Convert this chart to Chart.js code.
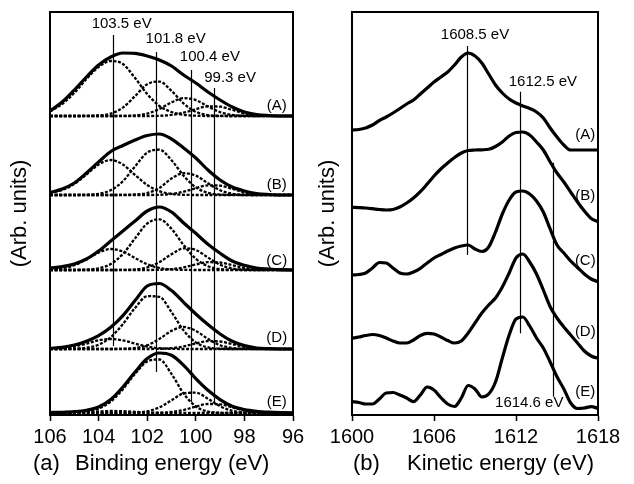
<!DOCTYPE html>
<html>
<head>
<meta charset="utf-8">
<script src="https://cdn.jsdelivr.net/npm/chart.js@4.4.1/dist/chart.umd.min.js"></script>
<style>
  html, body { margin: 0; padding: 0; background: #fff; }
  #wrap { position: relative; width: 634px; height: 484px; }
  canvas { position: absolute; top: 0; }
  #left { left: 0; }
  #right { left: 317px; }
</style>
</head>
<body>
<div id="wrap">
  <canvas id="left" width="317" height="484"></canvas>
  <canvas id="right" width="317" height="484"></canvas>
</div>
<script>
// ---- panel (a): XPS, binding energy grid (eV) ----
const bindingEnergy = [106, 105.5, 105, 104.5, 104, 103.5, 103, 102.5, 102, 101.5, 101, 100.5, 100, 99.5, 99, 98.5, 98, 97.5, 97, 96.5, 96];
// vertical offset of each spectrum (A..E)
const xpsOffsets = [299, 220, 145, 66, 2];

const xpsA_env = [5, 14, 26, 39, 51, 59, 63, 62.7, 60, 56, 50, 41, 33, 24, 16, 9, 4, 1.5, 0.5, 0, 0];
const xpsA_c1 = [4.5, 12, 23, 37, 49, 55, 52, 38, 22, 10, 4, 1.2, 0.3, 0, 0, 0, 0, 0, 0, 0, 0];
const xpsA_c2 = [0, 0, 0, 0.1, 0.5, 2.4, 8.4, 19.9, 31.8, 34.4, 25.2, 12.5, 4.2, 0.9, 0.1, 0, 0, 0, 0, 0, 0];
const xpsA_c3 = [0, 0, 0, 0, 0, 0, 0.1, 0.6, 2.4, 7.0, 13.6, 17.9, 15.9, 9.6, 3.9, 1.1, 0.2, 0, 0, 0, 0];
const xpsA_c4 = [0, 0, 0, 0, 0, 0, 0, 0, 0, 0.2, 1.1, 3.3, 6.8, 9.7, 9.3, 6.1, 2.7, 0.8, 0.2, 0, 0];

const xpsB_env = [2.5, 6, 12, 22, 33, 43.5, 49.5, 55, 59.5, 61, 56, 47, 37, 25, 15, 8, 4, 1.5, 0.5, 0, 0];
const xpsB_c1 = [2, 5, 11, 20.5, 30.5, 35, 30.5, 20, 10, 3.8, 1.1, 0.2, 0, 0, 0, 0, 0, 0, 0, 0, 0];
const xpsB_c2 = [0, 0, 0, 0.2, 1.2, 4.8, 13.8, 28.6, 42.4, 45.3, 34.8, 19.2, 7.6, 2.2, 0.4, 0.1, 0, 0, 0, 0, 0];
const xpsB_c3 = [0, 0, 0, 0, 0, 0, 0.1, 0.5, 2.0, 7.0, 16.6, 21.8, 19.4, 11.7, 4.8, 1.3, 0.2, 0, 0, 0, 0];
const xpsB_c4 = [0, 0, 0, 0, 0, 0, 0, 0, 0, 0.2, 1.1, 3.3, 6.8, 9.7, 9.3, 6.1, 2.7, 0.8, 0.2, 0, 0];

const xpsC_env = [2, 3.3, 6, 11, 19, 29, 39, 49, 59, 63, 58, 47, 36.7, 25.7, 16.7, 9, 4.7, 2, 1, 0.3, 0];
const xpsC_c1 = [0.4, 1.6, 4.8, 10.6, 17.4, 21, 18.5, 12, 5.7, 2, 0.5, 0.1, 0, 0, 0, 0, 0, 0, 0, 0, 0];
const xpsC_c2 = [0, 0, 0, 0.4, 1.7, 6, 16, 31.6, 46.4, 50.7, 41.2, 24.9, 11.2, 3.8, 0.9, 0.2, 0, 0, 0, 0, 0];
const xpsC_c3 = [0, 0, 0, 0, 0, 0, 0.1, 0.6, 2.6, 7.8, 15.8, 21.6, 20, 12.5, 5.3, 1.5, 0.3, 0, 0, 0, 0];
const xpsC_c4 = [0, 0, 0, 0, 0, 0, 0, 0, 0, 0.2, 0.8, 2.6, 5.5, 7.8, 7.5, 4.9, 2.1, 0.6, 0.2, 0, 0];

const xpsD_env = [0.7, 1.7, 4, 7.7, 13.3, 21.7, 33.4, 48.4, 63, 65.5, 58.4, 46.7, 35, 24.4, 15, 7.7, 3.4, 1, 0.3, 0, 0];
const xpsD_c1 = [0.2, 0.8, 2.5, 5.4, 8.6, 10, 8.6, 5.4, 2.5, 0.8, 0.2, 0, 0, 0, 0, 0, 0, 0, 0, 0, 0];
const xpsD_c2 = [0, 0, 0.3, 1.2, 4.3, 11.8, 25, 41, 52.8, 52.2, 36.9, 18.5, 6.6, 1.6, 0.3, 0, 0, 0, 0, 0, 0];
const xpsD_c3 = [0, 0, 0, 0, 0, 0, 0.2, 1, 3.8, 10.1, 18.1, 22, 18.1, 10.1, 3.8, 1, 0.2, 0, 0, 0, 0];
const xpsD_c4 = [0, 0, 0, 0, 0, 0, 0, 0, 0, 0.2, 0.8, 2.6, 5.5, 7.8, 7.5, 4.9, 2.1, 0.6, 0.2, 0, 0];

const xpsE_env = [0.5, 0.7, 1.3, 2.7, 6, 13.5, 26, 41, 54.4, 60, 57.7, 47.7, 34.4, 22.7, 13.4, 6.7, 3.4, 1.7, 0.8, 0.3, 0];
const xpsE_c1 = [0.1, 0.2, 0.5, 1, 1.5, 2, 1.8, 1.2, 0.5, 0.2, 0, 0, 0, 0, 0, 0, 0, 0, 0, 0, 0];
const xpsE_c2 = [0, 0, 0.3, 1.4, 4.4, 11.5, 23.8, 39.2, 51.5, 53.5, 39.1, 19.4, 6.5, 1.5, 0.2, 0, 0, 0, 0, 0, 0];
const xpsE_c3 = [0, 0, 0, 0, 0, 0, 0, 0.3, 1.7, 5.6, 12.7, 19.6, 20.3, 14.3, 6.8, 2.2, 0.5, 0.1, 0, 0, 0];
const xpsE_c4 = [0, 0, 0, 0, 0, 0, 0, 0, 0, 0.2, 1, 3, 6.3, 9, 8.7, 5.6, 2.5, 0.7, 0.1, 0, 0];

const xpsLabels = ['(A)', '(B)', '(C)', '(D)', '(E)'];
const xpsMarkers = [103.4, 101.65, 100.2, 99.25];
const xpsMarkerText = ['103.5 eV', '101.8 eV', '100.4 eV', '99.3 eV'];

// ---- panel (b): kinetic energy grid (eV) ----
const kineticEnergy = [1600, 1600.5, 1601, 1601.5, 1602, 1602.5, 1603, 1603.5, 1604, 1604.5, 1605, 1605.5, 1606, 1606.5, 1607, 1607.5, 1608, 1608.5, 1609, 1609.5, 1610, 1610.5, 1611, 1611.5, 1612, 1612.5, 1613, 1613.5, 1614, 1614.5, 1615, 1615.5, 1616, 1616.5, 1617, 1617.5, 1618];
const aesA = [285, 285.5, 287, 290, 294.5, 298, 302, 306.5, 311, 315, 321, 327, 333, 338, 343, 350, 358, 362, 359, 352, 341, 330, 322, 316, 312, 309, 306.5, 303, 297, 287, 278, 270, 265, 265, 265, 265, 265];
const aesB = [207.7, 207.4, 207, 206.3, 205.5, 205, 205.5, 208, 212, 217, 223.3, 231, 239, 246, 252, 257.5, 262, 264.5, 265, 265.2, 265.7, 268.5, 273, 279, 282.5, 283, 280, 273, 265, 253, 242, 233, 223, 213, 204, 196.5, 193.3];
const aesC = [140, 140.5, 142, 147, 152.5, 152, 147, 142, 141, 143, 146.7, 152, 157, 160.5, 164, 167, 169, 170, 166, 163.5, 168, 183, 201, 215, 223, 224, 221, 214, 203, 186, 170, 162, 154, 147.5, 141, 136, 133.3];
const aesD = [76.7, 78, 79.5, 80.5, 79.5, 77, 74, 72, 72, 75, 79.5, 81.7, 81, 78, 74.5, 72, 74, 82, 92, 102, 110, 117, 128, 142, 157, 161, 153, 141, 125, 108.3, 97, 88, 80, 72, 64, 59, 56.7];
const aesE = [13.3, 12.5, 11, 11, 16, 22, 22.5, 20, 17, 13.3, 20, 28, 25, 17.5, 11, 8.5, 17, 29.5, 26, 18, 21, 33, 57, 80, 96, 98, 89, 77, 67, 53, 38.3, 26, 12, 6.5, 7, 8.3, 6.7];
const aesMarkers = [1608.4, 1612.3, 1614.7];
const aesMarkerText = ['1608.5 eV', '1612.5 eV', '1614.6 eV'];

Chart.defaults.font.family = '"Liberation Sans", Arial, sans-serif';
Chart.defaults.color = '#000';

const pts = (xs, ys, off) => xs.map((x, i) => ({ x: x, y: ys[i] + off }));

// frame, marker lines and free text
const decor = {
  id: 'decor',
  afterDatasetsDraw(chart, args, opts) {
    const { ctx, chartArea: a, scales: { x, y } } = chart;
    ctx.save();
    ctx.strokeStyle = '#000';
    ctx.lineWidth = 1.2;
    opts.markers.forEach(m => {
      const px = Math.round(x.getPixelForValue(m.at)) + 0.5;
      ctx.beginPath();
      ctx.moveTo(px, y.getPixelForValue(m.from));
      ctx.lineTo(px, y.getPixelForValue(m.to));
      ctx.stroke();
    });
    ctx.lineWidth = 2;
    ctx.strokeRect(a.left, a.top, a.right - a.left, a.bottom - a.top);

    ctx.fillStyle = '#000';
    ctx.textAlign = 'center';
    ctx.textBaseline = 'middle';
    ctx.font = '15px "Liberation Sans", Arial, sans-serif';
    opts.labels.forEach(l => ctx.fillText(l.text, x.getPixelForValue(l.x), y.getPixelForValue(l.y)));

    ctx.textAlign = 'left';
    ctx.font = '22px "Liberation Sans", Arial, sans-serif';
    opts.captions.forEach(c => ctx.fillText(c.text, c.left, c.top));
    ctx.restore();
  }
};

function panelOptions(cfg) {
  return {
    responsive: false,
    animation: false,
    devicePixelRatio: 1,
    layout: { padding: { top: 12, right: cfg.rightPad, left: 0, bottom: 0 } },
    elements: { point: { radius: 0 }, line: { cubicInterpolationMode: 'monotone' } },
    plugins: {
      legend: { display: false },
      tooltip: { enabled: false },
      decor: cfg.decor
    },
    scales: {
      x: {
        type: 'linear', min: cfg.min, max: cfg.max, reverse: cfg.reverse,
        ticks: { stepSize: cfg.step, font: { size: 20 }, color: '#000', padding: 4,
                 maxRotation: 0, autoSkip: false, callback: v => String(v) },
        grid: { drawOnChartArea: false, drawTicks: true, tickLength: 6, tickColor: '#000', tickWidth: 1.5 },
        border: { display: true, color: '#000', width: 2 },
        afterFit: s => { s.height = 69; }
      },
      y: {
        min: 0, max: 403,
        ticks: { display: false },
        grid: { display: false },
        border: { display: false },
        title: { display: true, text: '(Arb. units)', color: '#000',
                 font: { size: 22, lineHeight: 1 }, padding: { top: cfg.titlePad, bottom: 0 } },
        afterFit: s => { s.width = cfg.yWidth; }
      }
    }
  };
}

// ---- left chart ----
const xpsSets = [
  [xpsA_env, xpsA_c1, xpsA_c2, xpsA_c3, xpsA_c4],
  [xpsB_env, xpsB_c1, xpsB_c2, xpsB_c3, xpsB_c4],
  [xpsC_env, xpsC_c1, xpsC_c2, xpsC_c3, xpsC_c4],
  [xpsD_env, xpsD_c1, xpsD_c2, xpsD_c3, xpsD_c4],
  [xpsE_env, xpsE_c1, xpsE_c2, xpsE_c3, xpsE_c4]
];
const leftDatasets = [];
xpsSets.forEach((set, k) => {
  set.slice(1).forEach(comp => {
    leftDatasets.push({
      data: pts(bindingEnergy, comp, xpsOffsets[k]),
      borderColor: '#000', borderWidth: 2.3, borderDash: [3, 1.6], fill: false
    });
  });
});
xpsSets.forEach((set, k) => {
  leftDatasets.push({
    data: pts(bindingEnergy, set[0], xpsOffsets[k]),
    borderColor: '#000', borderWidth: 3.2, fill: false
  });
});

const xpsLineTop = [380, 363, 345, 327];
const xpsLineBottom = [69, 43, 13, 12];
const xpsTextPos = [[103.05, 391], [100.83, 375.7], [99.42, 358.3], [98.59, 336.7]];
const xpsCurveLabelY = [309, 230, 154.3, 76.7, 13.3];

new Chart(document.getElementById('left'), {
  type: 'line',
  data: { datasets: leftDatasets },
  options: panelOptions({
    min: 96, max: 106, reverse: true, step: 2, rightPad: 24, yWidth: 50, titlePad: 9,
    decor: {
      markers: xpsMarkers.map((e, i) => ({ at: e, from: xpsLineTop[i], to: xpsLineBottom[i] })),
      labels: xpsMarkerText.map((t, i) => ({ text: t, x: xpsTextPos[i][0], y: xpsTextPos[i][1] }))
        .concat(xpsLabels.map((t, i) => ({ text: t, x: 96.67, y: xpsCurveLabelY[i] }))),
      captions: [{ text: '(a)', left: 33, top: 464 }, { text: 'Binding energy (eV)', left: 75, top: 464 }]
    }
  }),
  plugins: [decor]
});

// ---- right chart ----
const aesSeries = [aesA, aesB, aesC, aesD, aesE];
const aesLineTop = [369, 323.3, 252.3];
const aesLineBottom = [160, 81.7, 18.3];
const aesTextPos = [[1609.0, 380], [1613.97, 333.3], [1612.97, 11.7]];
const aesCurveLabelY = [280, 219, 154.3, 83.3, 23.3];

new Chart(document.getElementById('right'), {
  type: 'line',
  data: {
    datasets: aesSeries.map(s => ({
      data: pts(kineticEnergy, s, 0),
      borderColor: '#000', borderWidth: 3.2, fill: false
    }))
  },
  options: panelOptions({
    min: 1600, max: 1618, reverse: false, step: 6, rightPad: 36, yWidth: 35, titlePad: 0,
    decor: {
      markers: aesMarkers.map((e, i) => ({ at: e, from: aesLineTop[i], to: aesLineBottom[i] })),
      labels: aesMarkerText.map((t, i) => ({ text: t, x: aesTextPos[i][0], y: aesTextPos[i][1] }))
        .concat(xpsLabels.map((t, i) => ({ text: t, x: 1617.07, y: aesCurveLabelY[i] }))),
      captions: [{ text: '(b)', left: 36, top: 464 }, { text: 'Kinetic energy (eV)', left: 90, top: 464 }]
    }
  }),
  plugins: [decor]
});
</script>
</body>
</html>
